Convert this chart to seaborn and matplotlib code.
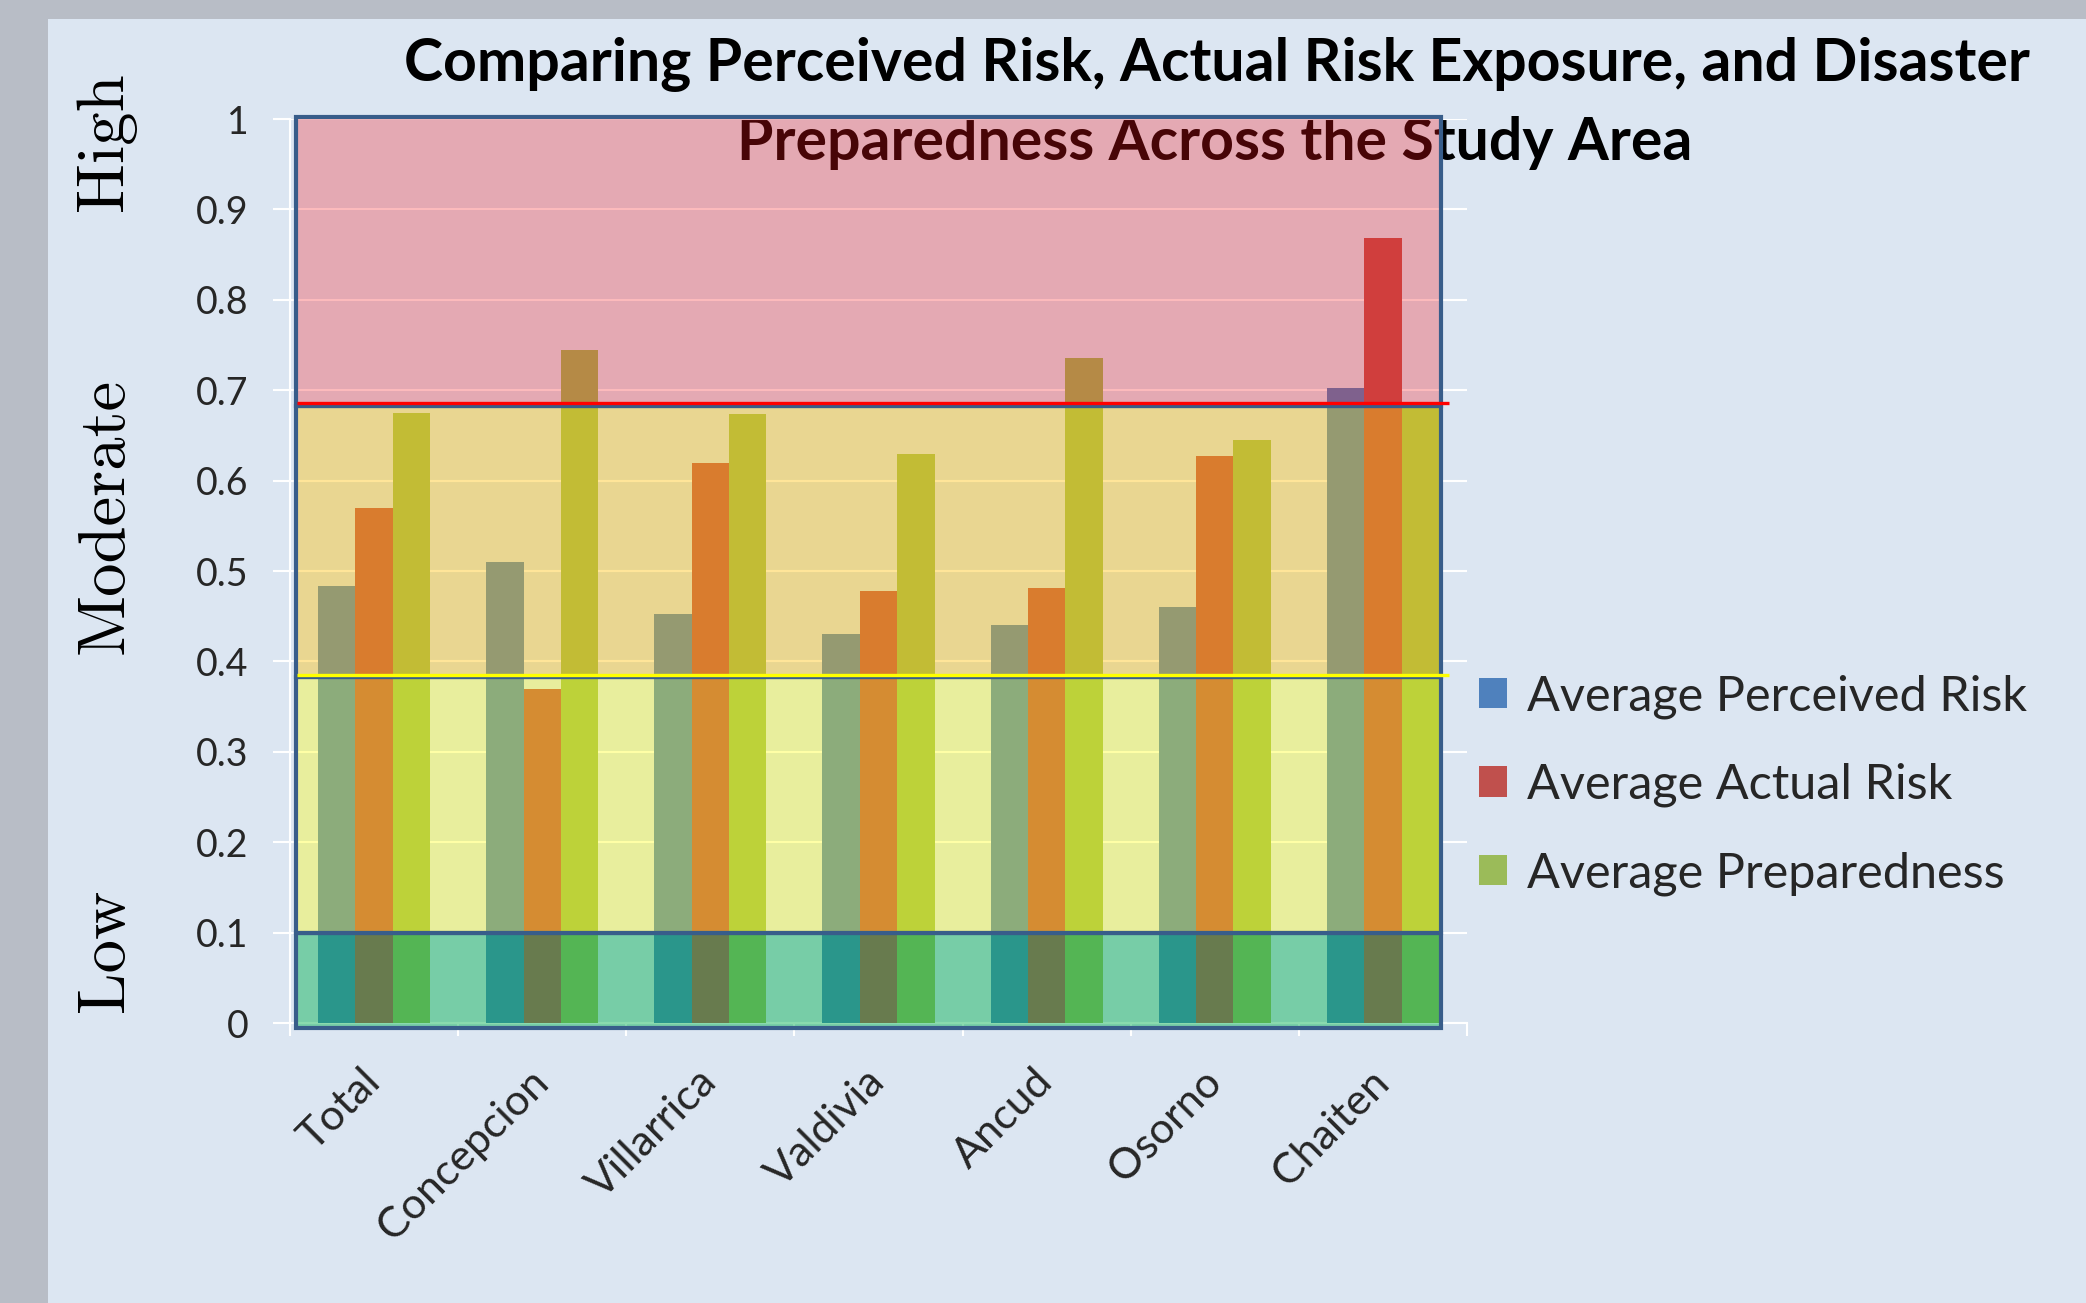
import numpy as np
import pandas as pd
import matplotlib
matplotlib.use("Agg")
import matplotlib.pyplot as plt
import seaborn as sns
from matplotlib.patches import Rectangle, Patch
from matplotlib.colors import to_rgba

sns.set_style("white")
plt.rcParams["font.family"] = ["Lato", "DejaVu Sans"]

# ---- data -------------------------------------------------------------
regions = ["Total", "Concepcion", "Villarrica", "Valdivia", "Ancud", "Osorno", "Chaiten"]
series_names = ["Average Perceived Risk", "Average Actual Risk", "Average Preparedness"]
perceived_risk = [0.483, 0.510, 0.452, 0.430, 0.440, 0.460, 0.702]
actual_risk = [0.570, 0.370, 0.620, 0.478, 0.481, 0.627, 0.868]
preparedness = [0.675, 0.745, 0.674, 0.629, 0.736, 0.645, 0.680]
y_ticks = [0, 0.1, 0.2, 0.3, 0.4, 0.5, 0.6, 0.7, 0.8, 0.9, 1.0]
y_tick_labels = ["0", "0.1", "0.2", "0.3", "0.4", "0.5", "0.6", "0.7", "0.8", "0.9", "1"]

# risk bands: boundaries, fill colours and fill alphas
band_bounds = [-0.005, 0.100, 0.383, 0.683, 1.002]
band_colors = ["#00b050", "#ffff00", "#ffc000", "#f81419"]
band_alphas = [0.46, 0.35, 0.40, 0.29]
moderate_threshold = 0.385
high_threshold = 0.686

series_colors = ["#4f81bd", "#c0504d", "#9bbb59"]

df = pd.DataFrame({
    "Region": regions * 3,
    "Series": [s for s in series_names for _ in regions],
    "Value": perceived_risk + actual_risk + preparedness,
})

# ---- figure -----------------------------------------------------------
W, H = 2086, 1303
fig = plt.figure(figsize=(W / 100, H / 100), dpi=100)
fig.patch.set_facecolor("#b8bdc6")
fig.add_artist(Rectangle((48 / W, 0), 1 - 48 / W, 1 - 19 / H,
                         transform=fig.transFigure, facecolor="#dce6f2",
                         edgecolor="none", zorder=-10))

ax = fig.add_axes([290 / W, 280 / H, (1467 - 290) / W, (1023 - 119) / H])
ax.set_facecolor("none")

sns.barplot(data=df, x="Region", y="Value", hue="Series", palette=series_colors,
            width=0.667, saturation=1, errorbar=None, legend=False,
            edgecolor="none", zorder=1, ax=ax)

ax.set_xlim(-0.5, len(regions) - 0.5)
ax.set_ylim(0, 1)
ax.set_xlabel("")
ax.set_ylabel("")

# translucent risk bands drawn over the bars
x0, x1 = -0.465, 6.345
for i in range(4):
    lo, hi = band_bounds[i], band_bounds[i + 1]
    ax.add_patch(Rectangle((x0, lo), x1 - x0, hi - lo,
                           facecolor=to_rgba(band_colors[i], band_alphas[i]),
                           edgecolor="#385d8a", linewidth=3, zorder=3,
                           clip_on=False))

ax.plot([-0.46, 6.39], [high_threshold] * 2, color="#ff0000", lw=2.4,
        zorder=4, clip_on=False, solid_capstyle="butt")
ax.plot([-0.46, 6.39], [moderate_threshold] * 2, color="#ffff00", lw=2.4,
        zorder=4, clip_on=False, solid_capstyle="butt")

# axes styling
for s in ["top", "right"]:
    ax.spines[s].set_visible(False)
for s in ["left", "bottom"]:
    ax.spines[s].set_color("white")
    ax.spines[s].set_linewidth(1.5)
    ax.spines[s].set_zorder(0.6)

ax.set_axisbelow(True)
ax.yaxis.grid(True, color="white", linewidth=1.5)
ax.xaxis.grid(False)

ax.set_yticks(y_ticks)
ax.set_yticklabels(y_tick_labels, fontsize=27)
ax.tick_params(axis="y", direction="out", length=12, width=1.5, color="white",
               pad=18, left=True)

ax.set_xticks(range(len(regions)))
ax.set_xticklabels(regions, fontsize=31, rotation=45, ha="right", va="center",
                   rotation_mode="anchor")
ax.set_xticks(np.arange(-0.5, len(regions), 1.0), minor=True)
ax.tick_params(axis="x", which="major", length=0, pad=38)
ax.tick_params(axis="x", which="minor", direction="out", length=9, width=1.5,
               color="white", bottom=True)

# title (sits under the high-risk band where they overlap)
title_kw = dict(transform=fig.transFigure, ha="center", va="center",
                fontsize=42.5, fontweight="bold", color="black", zorder=0.2,
                clip_on=False)
ax.text(1217 / W, 1 - 64 / H,
        "Comparing Perceived Risk, Actual Risk Exposure, and Disaster", **title_kw)
ax.text(1215 / W, 1 - 143 / H, "Preparedness Across the Study Area", **title_kw)

# band names along the left edge
side_kw = dict(rotation=90, ha="center", va="center", fontsize=48,
               family="cmr10", color="black")
fig.text(106 / W, 1 - 142 / H, "High", **side_kw)
fig.text(106 / W, 1 - 516 / H, "Moderate", **side_kw)
fig.text(106 / W, 1 - 950 / H, "Low", **side_kw)

handles = [Patch(facecolor=c, edgecolor="none", label=n)
           for c, n in zip(series_colors, series_names)]
fig.legend(handles=handles, loc="center left", bbox_to_anchor=(1479 / W, 1 - 785 / H),
           frameon=False, fontsize=35, handlelength=0.58, handleheight=0.58,
           handletextpad=0.4, labelspacing=0.9, borderaxespad=0, borderpad=0)

fig.savefig("out.png", dpi=100, facecolor=fig.get_facecolor())
